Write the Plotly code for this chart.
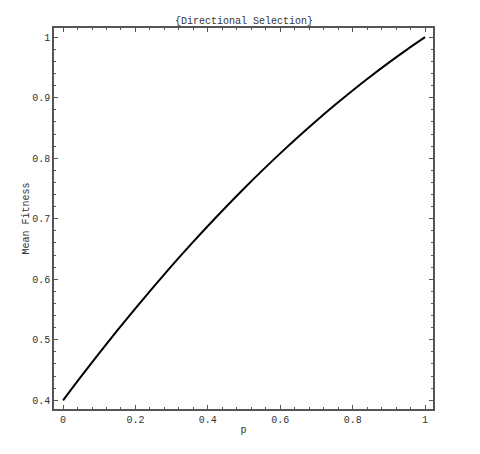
import plotly.graph_objects as go

p_vals = [0.0, 0.05, 0.1, 0.15, 0.2, 0.25, 0.3, 0.35, 0.4, 0.45, 0.5,
          0.55, 0.6, 0.65, 0.7, 0.75, 0.8, 0.85, 0.9, 0.95, 1.0]
mean_fitness = [0.4, 0.4395, 0.478, 0.5155, 0.552, 0.5875, 0.622, 0.6555, 0.688, 0.7195, 0.75,
                0.7795, 0.808, 0.8355, 0.862, 0.8875, 0.912, 0.9355, 0.958, 0.9795, 1.0]

x_tickvals = [0, 0.2, 0.4, 0.6, 0.8, 1]
x_ticktext = ["0", "0.2", "0.4", "0.6", "0.8", "1"]
y_tickvals = [0.4, 0.5, 0.6, 0.7, 0.8, 0.9, 1.0]
y_ticktext = ["0.4", "0.5", "0.6", "0.7", "0.8", "0.9", "1"]

FONT = "Liberation Mono, Courier New, monospace"
AX = "#555555"
TXT = "#333333"

fig = go.Figure()
fig.add_trace(go.Scatter(x=p_vals, y=mean_fitness, mode="lines",
                         line=dict(color="black", width=2, shape="spline"),
                         showlegend=False, hoverinfo="skip"))

common = dict(showgrid=False, zeroline=False, showline=True, linecolor=AX, linewidth=1.5,
              mirror="allticks", ticks="inside", ticklen=4, tickwidth=1, tickcolor=AX,
              tickfont=dict(family=FONT, size=10, color=TXT))

fig.update_xaxes(range=[-0.025, 1.022], tickvals=x_tickvals, ticktext=x_ticktext,
                 minor=dict(ticks="inside", ticklen=2, tickwidth=1, tickcolor=AX, dtick=0.04, tick0=0),
                 title=dict(text="p", font=dict(family=FONT, size=10, color=TXT), standoff=1),
                 **common)
fig.update_yaxes(range=[0.3856, 1.0152], tickvals=y_tickvals, ticktext=y_ticktext,
                 minor=dict(ticks="inside", ticklen=2, tickwidth=1, tickcolor=AX, dtick=0.02, tick0=0.4),
                 title=dict(text="Mean Fitness", font=dict(family=FONT, size=10, color=TXT), standoff=0),
                 **common)

W, H = 472, 446
fig.update_layout(
    width=W, height=H,
    margin=dict(l=46, r=47, t=20, b=45),
    paper_bgcolor="white", plot_bgcolor="white",
    title=dict(text="{Directional Selection}", x=0.5, xanchor="center",
               y=1 - 12 / H, yanchor="middle",
               font=dict(family=FONT, size=10, color=TXT)),
)

fig.write_html("out.html")
